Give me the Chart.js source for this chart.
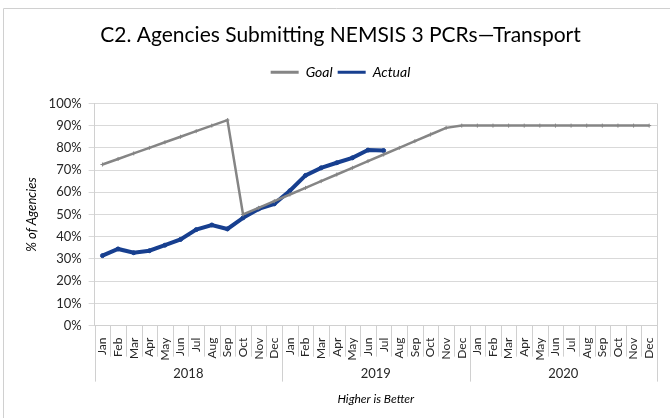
<!DOCTYPE html>
<html>
<head>
<meta charset="utf-8">
<script src="https://cdn.jsdelivr.net/npm/chart.js@4/dist/chart.umd.min.js"></script>
<style>
  body { margin: 0; background: #fff; }
  #wrap { position: relative; width: 670px; height: 418px; }
</style>
</head>
<body>
<div id="wrap"><canvas id="c2chart" width="670" height="418"></canvas></div>
<script>
// chart values
var years = ["2018", "2019", "2020"];
var months = ["Jan","Feb","Mar","Apr","May","Jun","Jul","Aug","Sep","Oct","Nov","Dec"];
var goal = [72.5, 75, 77.5, 80, 82.5, 85, 87.5, 90, 92.5, 50, 53, 56,
            59, 62, 65, 68, 71, 74, 77, 80, 83, 86, 89, 90,
            90, 90, 90, 90, 90, 90, 90, 90, 90, 90, 90, 90];
var actual = [31.5, 34.5, 32.8, 33.7, 36.2, 38.8, 43.2, 45.3, 43.5, 48.5, 52.5, 54.8,
              60.7, 67.6, 71, 73.3, 75.5, 79, 78.8];
var yTicks = [0, 10, 20, 30, 40, 50, 60, 70, 80, 90, 100];

var labels = [];
years.forEach(function (y) { months.forEach(function (m) { labels.push(m); }); });

var FONT = "Lato, 'Liberation Sans', sans-serif";

// draws the year grouping under the month labels, plus the outer frame
var groupAxis = {
  id: 'groupAxis',
  beforeDraw: function (chart) {
    var ctx = chart.ctx;
    ctx.save();
    ctx.strokeStyle = '#d0d0d0';
    ctx.lineWidth = 1;
    ctx.beginPath();
    ctx.moveTo(3.5, 418);
    ctx.lineTo(3.5, 8.5);
    ctx.lineTo(670, 8.5);
    ctx.stroke();
    ctx.restore();
  },
  afterDraw: function (chart) {
    var ctx = chart.ctx;
    var xs = chart.scales.x;
    var area = chart.chartArea;
    var n = labels.length;
    var step = xs.getPixelForValue(1) - xs.getPixelForValue(0);
    ctx.save();
    ctx.strokeStyle = '#d0d0d0';
    ctx.lineWidth = 1;
    for (var i = 0; i <= n; i++) {
      var x = Math.round(xs.getPixelForValue(0) - step / 2 + i * step) + 0.5;
      var len = (i % 12 === 0) ? 56 : 31;
      ctx.beginPath();
      ctx.moveTo(x, area.bottom);
      ctx.lineTo(x, area.bottom + len);
      ctx.stroke();
    }
    // right edge of plot
    var xr = Math.round(area.right) + 0.5;
    ctx.beginPath();
    ctx.moveTo(xr, area.top);
    ctx.lineTo(xr, area.bottom);
    ctx.stroke();
    ctx.fillStyle = '#262626';
    ctx.font = '13px ' + FONT;
    ctx.textAlign = 'center';
    ctx.textBaseline = 'middle';
    years.forEach(function (y, k) {
      var cx = (xs.getPixelForValue(k * 12) + xs.getPixelForValue(k * 12 + 11)) / 2;
      ctx.fillText(y, cx, area.bottom + 48);
    });
    ctx.restore();
  }
};

new Chart(document.getElementById('c2chart'), {
  type: 'line',
  data: {
    labels: labels,
    datasets: [{
      label: 'Goal',
      data: goal,
      borderColor: '#858585',
      backgroundColor: '#858585',
      borderWidth: 2.5,
      pointStyle: 'cross',
      pointRadius: 2,
      pointBorderWidth: 1,
      tension: 0,
      fill: false
    }, {
      label: 'Actual',
      data: actual,
      borderColor: '#173f8f',
      backgroundColor: '#173f8f',
      borderWidth: 4,
      pointStyle: 'circle',
      pointRadius: 2,
      pointBorderWidth: 1,
      tension: 0,
      fill: false
    }]
  },
  options: {
    responsive: false,
    animation: false,
    layout: { padding: { left: 24, right: 13, top: 10, bottom: 12 } },
    plugins: {
      title: {
        display: true,
        text: 'C2. Agencies Submitting NEMSIS 3 PCRs\u2014Transport',
        color: '#000',
        font: { family: FONT, size: 21, weight: 'normal' },
        padding: { top: 13, bottom: 12 }
      },
      // blank spacer between legend and plot
      subtitle: {
        display: true,
        text: ' ',
        weight: 500,
        font: { size: 1 },
        padding: { top: 6, bottom: 7 }
      },
      legend: {
        display: true,
        labels: {
          color: '#000',
          font: { family: FONT, size: 14, style: 'italic' },
          boxWidth: 28,
          boxHeight: 3,
          padding: 5,
          generateLabels: function (chart) {
            return chart.data.datasets.map(function (ds, i) {
              return {
                text: ds.label,
                fillStyle: ds.borderColor,
                strokeStyle: ds.borderColor,
                lineWidth: 0,
                datasetIndex: i
              };
            });
          }
        }
      },
      tooltip: { enabled: false }
    },
    scales: {
      x: {
        type: 'category',
        offset: true,
        grid: { display: false },
        border: { color: '#d0d0d0' },
        ticks: {
          autoSkip: false,
          minRotation: 90,
          maxRotation: 90,
          padding: 4,
          color: '#262626',
          font: { family: FONT, size: 12 }
        },
        title: {
          display: true,
          text: 'Higher is Better',
          color: '#000',
          font: { family: FONT, size: 12, style: 'italic' },
          padding: { top: 27, bottom: 0 }
        }
      },
      y: {
        min: 0,
        max: 100,
        afterBuildTicks: function (scale) {
          scale.ticks = yTicks.map(function (v) { return { value: v }; });
        },
        grid: { color: '#d9d9d9', tickLength: 6 },
        border: { color: '#d0d0d0' },
        ticks: {
          padding: 7,
          color: '#262626',
          font: { family: FONT, size: 13 },
          callback: function (v) { return v + '%'; }
        },
        title: {
          display: true,
          text: '% of Agencies',
          color: '#000',
          font: { family: FONT, size: 13, style: 'italic' },
          padding: { top: 0, bottom: 2 }
        }
      }
    }
  },
  plugins: [groupAxis]
});
</script>
</body>
</html>
